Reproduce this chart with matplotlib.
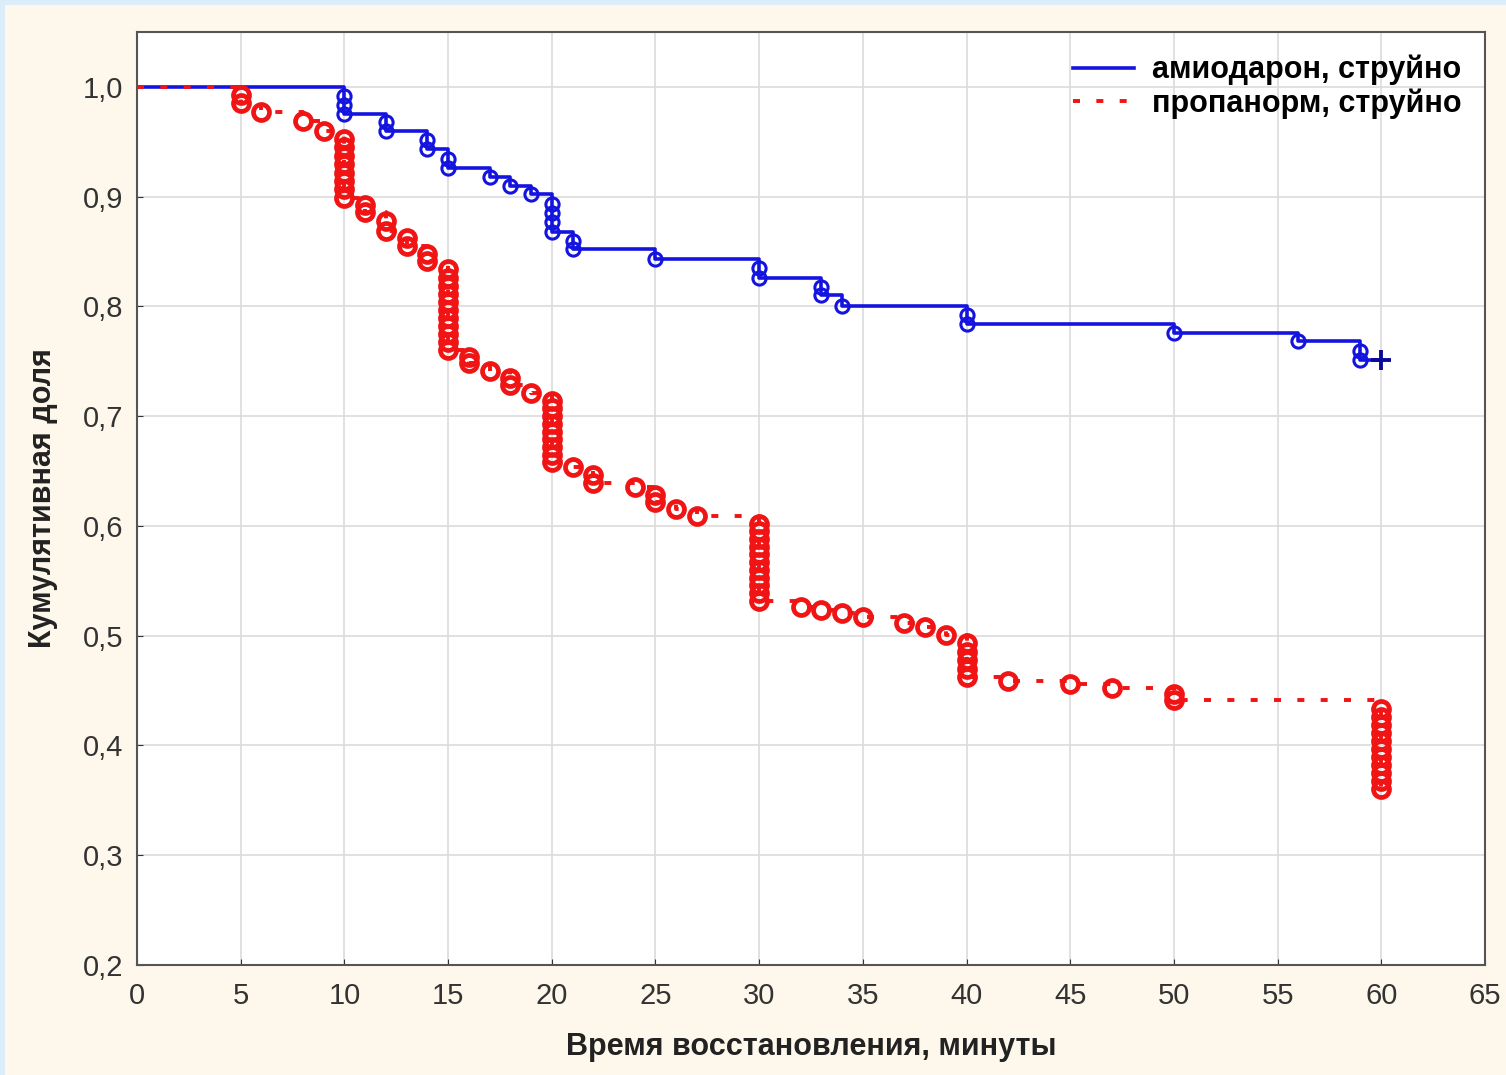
import numpy as np
import matplotlib
matplotlib.use('Agg')
import matplotlib.pyplot as plt
from matplotlib.patches import Rectangle
from matplotlib.lines import Line2D

plt.rcParams['font.family'] = ['Liberation Sans', 'DejaVu Sans']

# амиодарон, струйно: время события, доля после шага, число событий
blue_times = [10, 12, 14, 15, 17, 18, 19, 20, 21, 25, 30, 33, 34, 40, 50, 56, 59]
blue_surv = [0.975, 0.96, 0.943, 0.926, 0.918, 0.91, 0.902, 0.868, 0.852, 0.843,
             0.826, 0.81, 0.80, 0.784, 0.776, 0.768, 0.751]
blue_events = [3, 2, 2, 2, 1, 1, 1, 4, 2, 1, 2, 2, 1, 2, 1, 1, 2]
blue_cens = (60, 0.751)

# пропанорм, струйно
red_times = [5, 6, 8, 9, 10, 11, 12, 13, 14, 15, 16, 17, 18, 19, 20, 21, 22, 24, 25, 26,
             27, 30, 32, 33, 34, 35, 37, 38, 39, 40, 42, 45, 47, 50, 60]
red_surv = [0.985, 0.977, 0.969, 0.960, 0.899, 0.886, 0.869, 0.855, 0.841, 0.760, 0.748,
            0.741, 0.728, 0.721, 0.658, 0.654, 0.639, 0.635, 0.622, 0.615, 0.609, 0.532,
            0.526, 0.523, 0.521, 0.517, 0.512, 0.508, 0.501, 0.462, 0.459, 0.456, 0.452,
            0.441, 0.360]
red_events = [2, 1, 1, 1, 8, 2, 2, 2, 2, 11, 2, 1, 2, 1, 9, 1, 2, 1, 2, 1, 1, 11,
              1, 1, 1, 1, 1, 1, 1, 5, 1, 1, 1, 2, 11]

x_ticks = list(range(0, 70, 5))
y_ticks = [0.2, 0.3, 0.4, 0.5, 0.6, 0.7, 0.8, 0.9, 1.0]
y_ticklabels = ['0,2', '0,3', '0,4', '0,5', '0,6', '0,7', '0,8', '0,9', '1,0']
labels = ['амиодарон, струйно', 'пропанорм, струйно']

blue = '#1414e0'
red = '#f01414'
red_ls = (0, (1.8, 4.2))


def event_points(times, surv, events):
    # один кружок на каждое событие, столбиком между уровнями
    xs, ys = [], []
    prev = 1.0
    for t, s, k in zip(times, surv, events):
        d = (prev - s) / k
        for i in range(1, k + 1):
            xs.append(t)
            ys.append(prev - i * d)
        prev = s
    return xs, ys


fig = plt.figure(figsize=(15.06, 10.75), dpi=100, facecolor='#dcedfa')
fig.add_artist(Rectangle((5 / 1506, 0), 1, 1 - 5 / 1075, transform=fig.transFigure,
                         facecolor='#fef8ec', edgecolor='none', zorder=-1))
ax = fig.add_axes([0.091, 0.1023, 0.895, 0.868])
ax.set_facecolor('white')

# амиодарон
bx = [0] + blue_times + [blue_cens[0]]
by = [1.0] + blue_surv + [blue_cens[1]]
ax.step(bx, by, where='post', color=blue, lw=2.6, zorder=3)
px, py = event_points(blue_times, blue_surv, blue_events)
ax.plot(px, py, 'o', ms=9.5, mfc='none', mec=blue, mew=2.2, zorder=4)
ax.plot(*blue_cens, '+', ms=14, mew=2.8, color='#0a0a9a', zorder=5)

# пропанорм
rx = [0] + red_times
ry = [1.0] + red_surv
ax.step(rx, ry, where='post', color=red, lw=2.8, ls=red_ls, zorder=6)
px, py = event_points(red_times, red_surv, red_events)
ax.plot(px, py, 'o', ms=11.5, mfc='none', mec=red, mew=3.4, zorder=7)

ax.set_xlim(0, 65)
ax.set_ylim(0.2, 1.05)
ax.set_xticks(x_ticks)
ax.set_yticks(y_ticks)
ax.set_yticklabels(y_ticklabels)
ax.grid(True, color='#dcdcdc', lw=1.2)
ax.set_axisbelow(True)
for sp in ax.spines.values():
    sp.set_color('#555555')
    sp.set_linewidth(1.5)
ax.tick_params(axis='both', labelsize=21, colors='#333333', direction='in', length=4)
ax.tick_params(axis='x', pad=12)
ax.tick_params(axis='y', pad=10)

ax.set_xlabel('Время восстановления, минуты', fontsize=22, fontweight='bold',
              color='#222222', labelpad=16)
ax.set_ylabel('Кумулятивная доля', fontsize=22, fontweight='bold',
              color='#222222', labelpad=18)

handles = [Line2D([], [], color=blue, lw=2.6),
           Line2D([], [], color=red, lw=2.8, ls=red_ls)]
ax.legend(handles, labels, loc='upper right', frameon=False,
          prop={'weight': 'bold', 'size': 22}, handlelength=2.0,
          labelspacing=0.1, borderaxespad=0.35, handletextpad=0.6)

fig.savefig('out.png', dpi=100, facecolor=fig.get_facecolor())
